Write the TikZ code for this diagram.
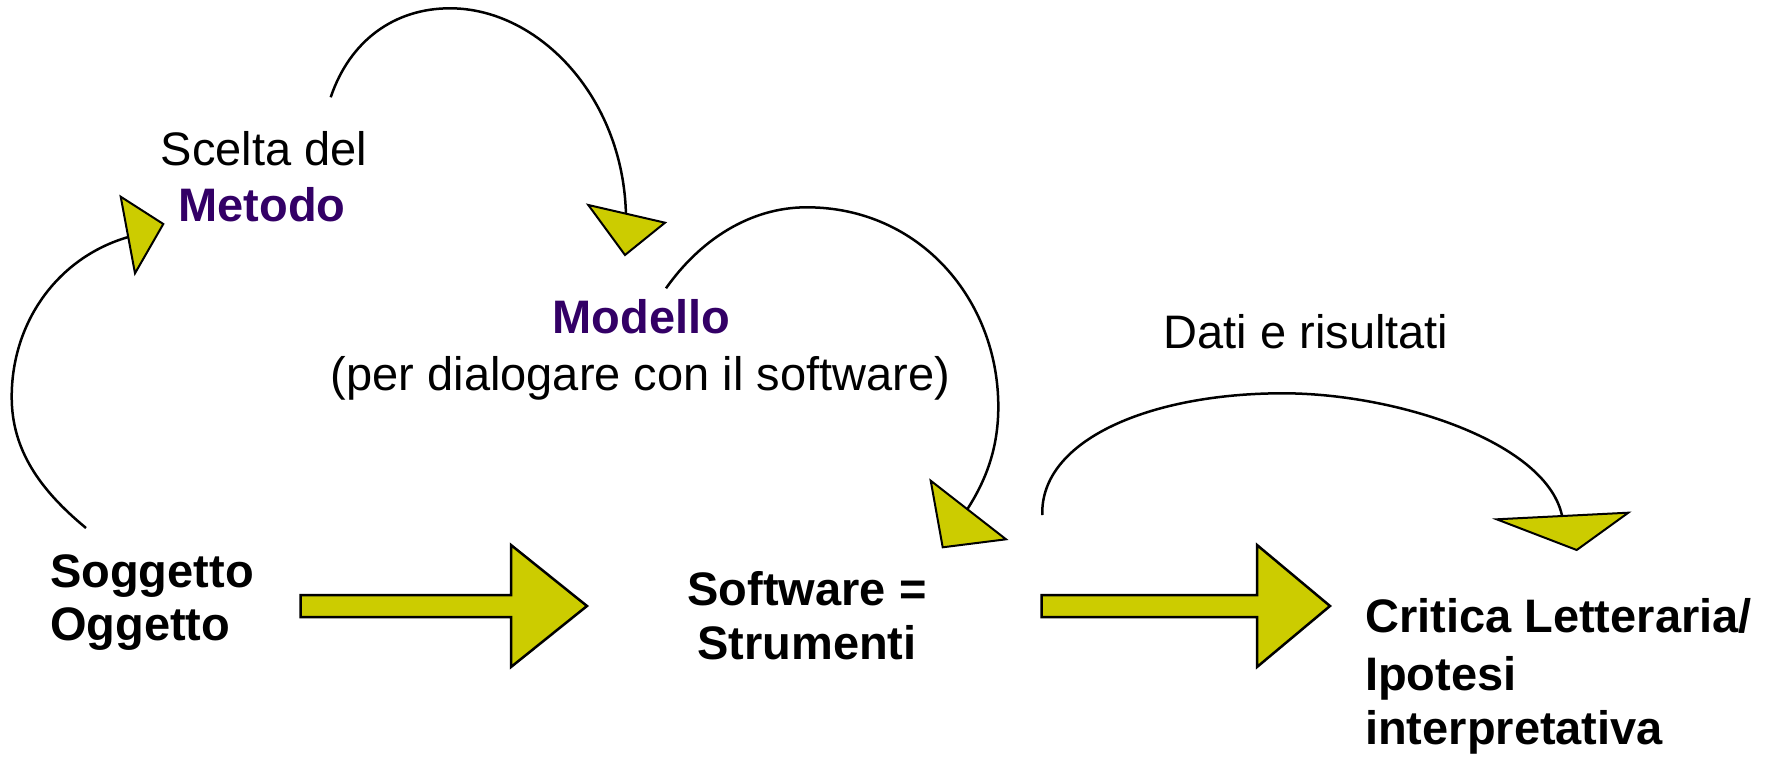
\documentclass[tikz,border=0pt]{standalone}
\usepackage{fontspec}
\setmainfont{Liberation Sans}
\definecolor{arrowyellow}{HTML}{CCCC00}
\definecolor{metpurple}{HTML}{330066}
\begin{document}
\begin{tikzpicture}[x=1pt,y=-1pt,
  lbl/.style={inner sep=0pt, font=\fontsize{47}{55}\selectfont},
  blbl/.style={inner sep=0pt, font=\fontsize{47}{55}\selectfont\bfseries},
  curve/.style={line width=2.5pt, draw=black},
  head/.style={fill=arrowyellow, draw=black, line width=2pt, line join=miter},
  block/.style={fill=arrowyellow, draw=black, line width=2.5pt, line join=miter}]
\useasboundingbox (0,0) rectangle (1773,757);

% texts
\node[lbl, anchor=base] (scelta) at (264,166) {Scelta del};
\node[blbl, text=metpurple, anchor=base] (metodo) at (262,221) {Metodo};
\node[blbl, text=metpurple, anchor=base] (modello) at (641.5,333) {Modello};
\node[lbl, anchor=base] (dialog) at (640.5,390) {(per dialogare con il software)};
\node[lbl, anchor=base] (dati) at (1306,348) {Dati e risultati};
\node[blbl, anchor=base west] (sogg) at (50,587) {Soggetto};
\node[blbl, anchor=base west] (ogg) at (50,640) {Oggetto};
\node[blbl, anchor=base] (soft) at (807,605) {Software =};
\node[blbl, anchor=base] (strum) at (807,659) {Strumenti};
\node[blbl, anchor=base west] (crit) at (1365,632) {Critica Letteraria/};
\node[blbl, anchor=base west] (ipot) at (1365,690) {Ipotesi};
\node[blbl, anchor=base west] (interp) at (1365,744) {interpretativa};

% curve end points
\coordinate (c1s) at (86,528);
\coordinate (c1m) at (11.7,397);
\coordinate (c1e) at (132,236);
\coordinate (c2s) at (330.7,97.3);
\coordinate (c2m) at (450,8.3);
\coordinate (c2e) at (626,220);
\coordinate (c3s) at (666,288.3);
\coordinate (c3t) at (806.7,207.3);
\coordinate (c3r) at (998.3,406.7);
\coordinate (c3e) at (960,520);
\coordinate (c4s) at (1042.3,515);
\coordinate (c4t) at (1283,393.3);
\coordinate (c4e) at (1563,522);

% curved connectors
\draw[curve] (c1s) .. controls (40,490) and (11.7,450) .. (c1m)
  .. controls (11.7,320) and (60,255) .. (c1e);
\draw[curve] (c2s) .. controls (350,40) and (395,8.3) .. (c2m)
  .. controls (540,8.3) and (626,100) .. (c2e);
\draw[curve] (c3s) .. controls (700,240) and (750,207.3) .. (c3t)
  .. controls (920,207.3) and (998.3,300) .. (c3r)
  .. controls (998.3,450) and (985,485) .. (c3e);
\draw[curve] (c4s) .. controls (1040,440) and (1150,393.3) .. (c4t)
  .. controls (1400,393.3) and (1555,445) .. (c4e);

% arrowheads
\draw[head] (120.7,196.7) -- (163.3,224) -- (135,273.3) -- cycle;
\draw[head] (588.3,205) -- (665,222.7) -- (625,255) -- cycle;
\draw[head] (930.7,480.7) -- (1006,539.3) -- (942.7,547.3) -- cycle;
\draw[head] (1496.7,519.3) -- (1628.3,512.7) -- (1576.7,550) -- cycle;

% block arrows
\coordinate (b1s) at (300.7,606);
\coordinate (b1t) at (587,606);
\coordinate (b2s) at (1041.7,606);
\coordinate (b2t) at (1330,606);
\draw[block] (300.7,595) -- (511,595) -- (511,545) -- (b1t) -- (511,667) -- (511,617) -- (300.7,617) -- cycle;
\draw[block] (1041.7,595) -- (1257,595) -- (1257,545) -- (b2t) -- (1257,667) -- (1257,617) -- (1041.7,617) -- cycle;
\end{tikzpicture}
\end{document}
